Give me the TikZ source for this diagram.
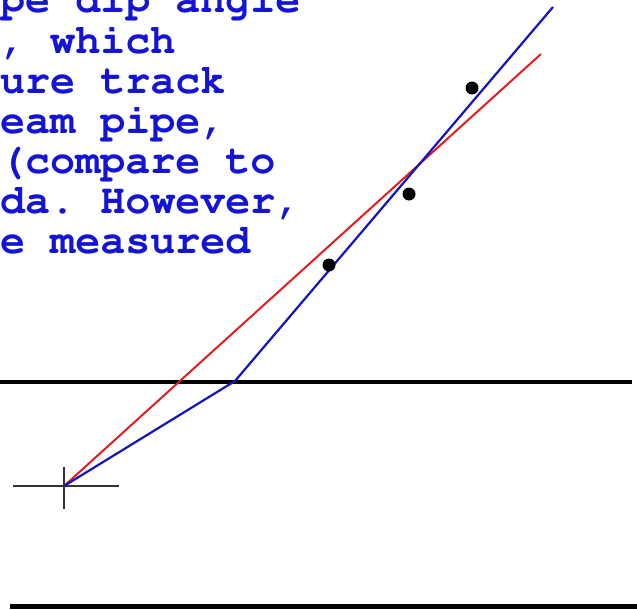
\documentclass[tikz,border=0pt]{standalone}
\usepackage[T1,TU]{fontenc}
\definecolor{txtblue}{RGB}{20,20,215}
\definecolor{lineblue}{RGB}{20,20,190}
\definecolor{linered}{RGB}{225,30,30}
\newcommand{\courbold}{\fontencoding{T1}\fontfamily{pcr}\fontseries{b}\fontshape{n}\fontsize{41.7}{40}\selectfont\frenchspacing}
\begin{document}
\begin{tikzpicture}[x=1pt,y=-1pt,
  txt/.style={anchor=base west,inner sep=0pt,text=txtblue,font=\courbold},
  fitblue/.style={draw=lineblue,line width=2.2pt,line join=round},
  fitred/.style={draw=linered,line width=2pt},
  rule/.style={draw=black,line width=4pt},
  crossline/.style={draw=black!80,line width=1.3pt},
  hit/.style={circle,fill=black,inner sep=0pt,minimum size=13pt}]
\useasboundingbox (0,0) rectangle (637,610);
\clip (0,0) rectangle (637,610);
\fill[white] (0,0) rectangle (637,610);
% text lines
\node[txt] (t1) at (0,13) {pe dip angle};
\node[txt] (t2) at (0,53) {, which};
\node[txt] (t3) at (0,93) {ure track};
\node[txt] (t4) at (0,133) {eam pipe,};
\node[txt] (t5) at (0,173) {(compare to};
\node[txt] (t6) at (0,213) {da. However,};
\node[txt] (t7) at (0,253) {e measured};
% coordinates
\coordinate (v) at (64,486);
\coordinate (kink) at (235,381);
\coordinate (bend) at (553,7);
\coordinate (rend) at (541,54);
\coordinate (hl) at (0,382);
\coordinate (hr) at (632,382);
\coordinate (bl) at (10,606);
\coordinate (br) at (637,606);
\coordinate (cl) at (13,486);
\coordinate (cr) at (119,486);
\coordinate (ct) at (64,467);
\coordinate (cb) at (64,509);
% rules
\draw[rule] (hl) -- (hr);
\draw[rule,line width=5pt] (bl) -- (br);
% vertex cross
\draw[crossline] (cl) -- (cr);
\draw[crossline] (ct) -- (cb);
% fitted tracks
\draw[fitred] (v) -- (rend);
\draw[fitblue] (v) -- (kink) -- (bend);
% hits
\node[hit] (h1) at (472,88) {};
\node[hit] (h2) at (409,194) {};
\node[hit] (h3) at (329,265) {};
\end{tikzpicture}
\end{document}
